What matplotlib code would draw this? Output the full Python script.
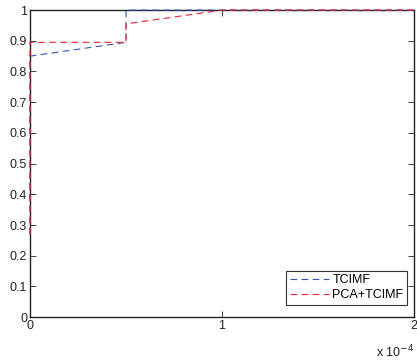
import matplotlib

matplotlib.use("Agg")
import matplotlib.pyplot as plt

plt.rcParams["font.family"] = ["Liberation Sans", "DejaVu Sans"]
plt.rcParams["font.size"] = 9

# ROC-like curves (x in real units, shown as x 10^-4)
tcimf_x = [0, 0, 0.5e-4, 0.5e-4, 2e-4]
tcimf_y = [0.27, 0.85, 0.895, 1.0, 1.0]
pca_x = [0, 0, 0.5e-4, 0.5e-4, 1.0e-4, 2e-4]
pca_y = [0.27, 0.895, 0.895, 0.955, 1.0, 1.0]

x_ticks = [0, 1e-4, 2e-4]
x_labels = ["0", "1", "2"]
y_ticks = [0, 0.1, 0.2, 0.3, 0.4, 0.5, 0.6, 0.7, 0.8, 0.9, 1]
y_labels = ["0", "0.1", "0.2", "0.3", "0.4", "0.5", "0.6", "0.7", "0.8", "0.9", "1"]

fig = plt.figure(figsize=(4.17, 3.6), dpi=100)
ax = fig.add_axes([0.072, 0.119, 0.921, 0.853])

ax.plot(tcimf_x, tcimf_y, color="#3355bb", lw=0.8, ls=(0, (6, 4)), label="TCIMF",
        clip_on=False, zorder=3)
ax.plot(pca_x, pca_y, color="#ee2233", lw=0.8, ls=(0, (6, 4)), label="PCA+TCIMF",
        clip_on=False, zorder=3)

ax.set_xlim(0, 2e-4)
ax.set_ylim(0, 1)
ax.set_xticks(x_ticks)
ax.set_xticklabels(x_labels)
ax.set_yticks(y_ticks)
ax.set_yticklabels(y_labels)
ax.tick_params(direction="in", length=4, width=0.6, top=True, right=True, pad=2,
               colors="#222222", labelcolor="#222222")
for s in ax.spines.values():
    s.set_linewidth(1.0)
    s.set_color("#222222")
    s.set_zorder(2.5)

ax.text(1.0, -0.085, "x 10$^{-4}$", transform=ax.transAxes, ha="right", va="top",
        fontsize=9, color="#222222")

leg = ax.legend(loc="lower right", bbox_to_anchor=(0.982, 0.039), fontsize=9, frameon=True,
                fancybox=False, handlelength=3.1, borderaxespad=0, borderpad=0.3,
                labelspacing=0.25, handletextpad=0.3)
leg.get_frame().set_edgecolor("black")
leg.get_frame().set_linewidth(0.8)
leg.set_zorder(5)

fig.savefig("out.png", dpi=100)
plt.close(fig)
